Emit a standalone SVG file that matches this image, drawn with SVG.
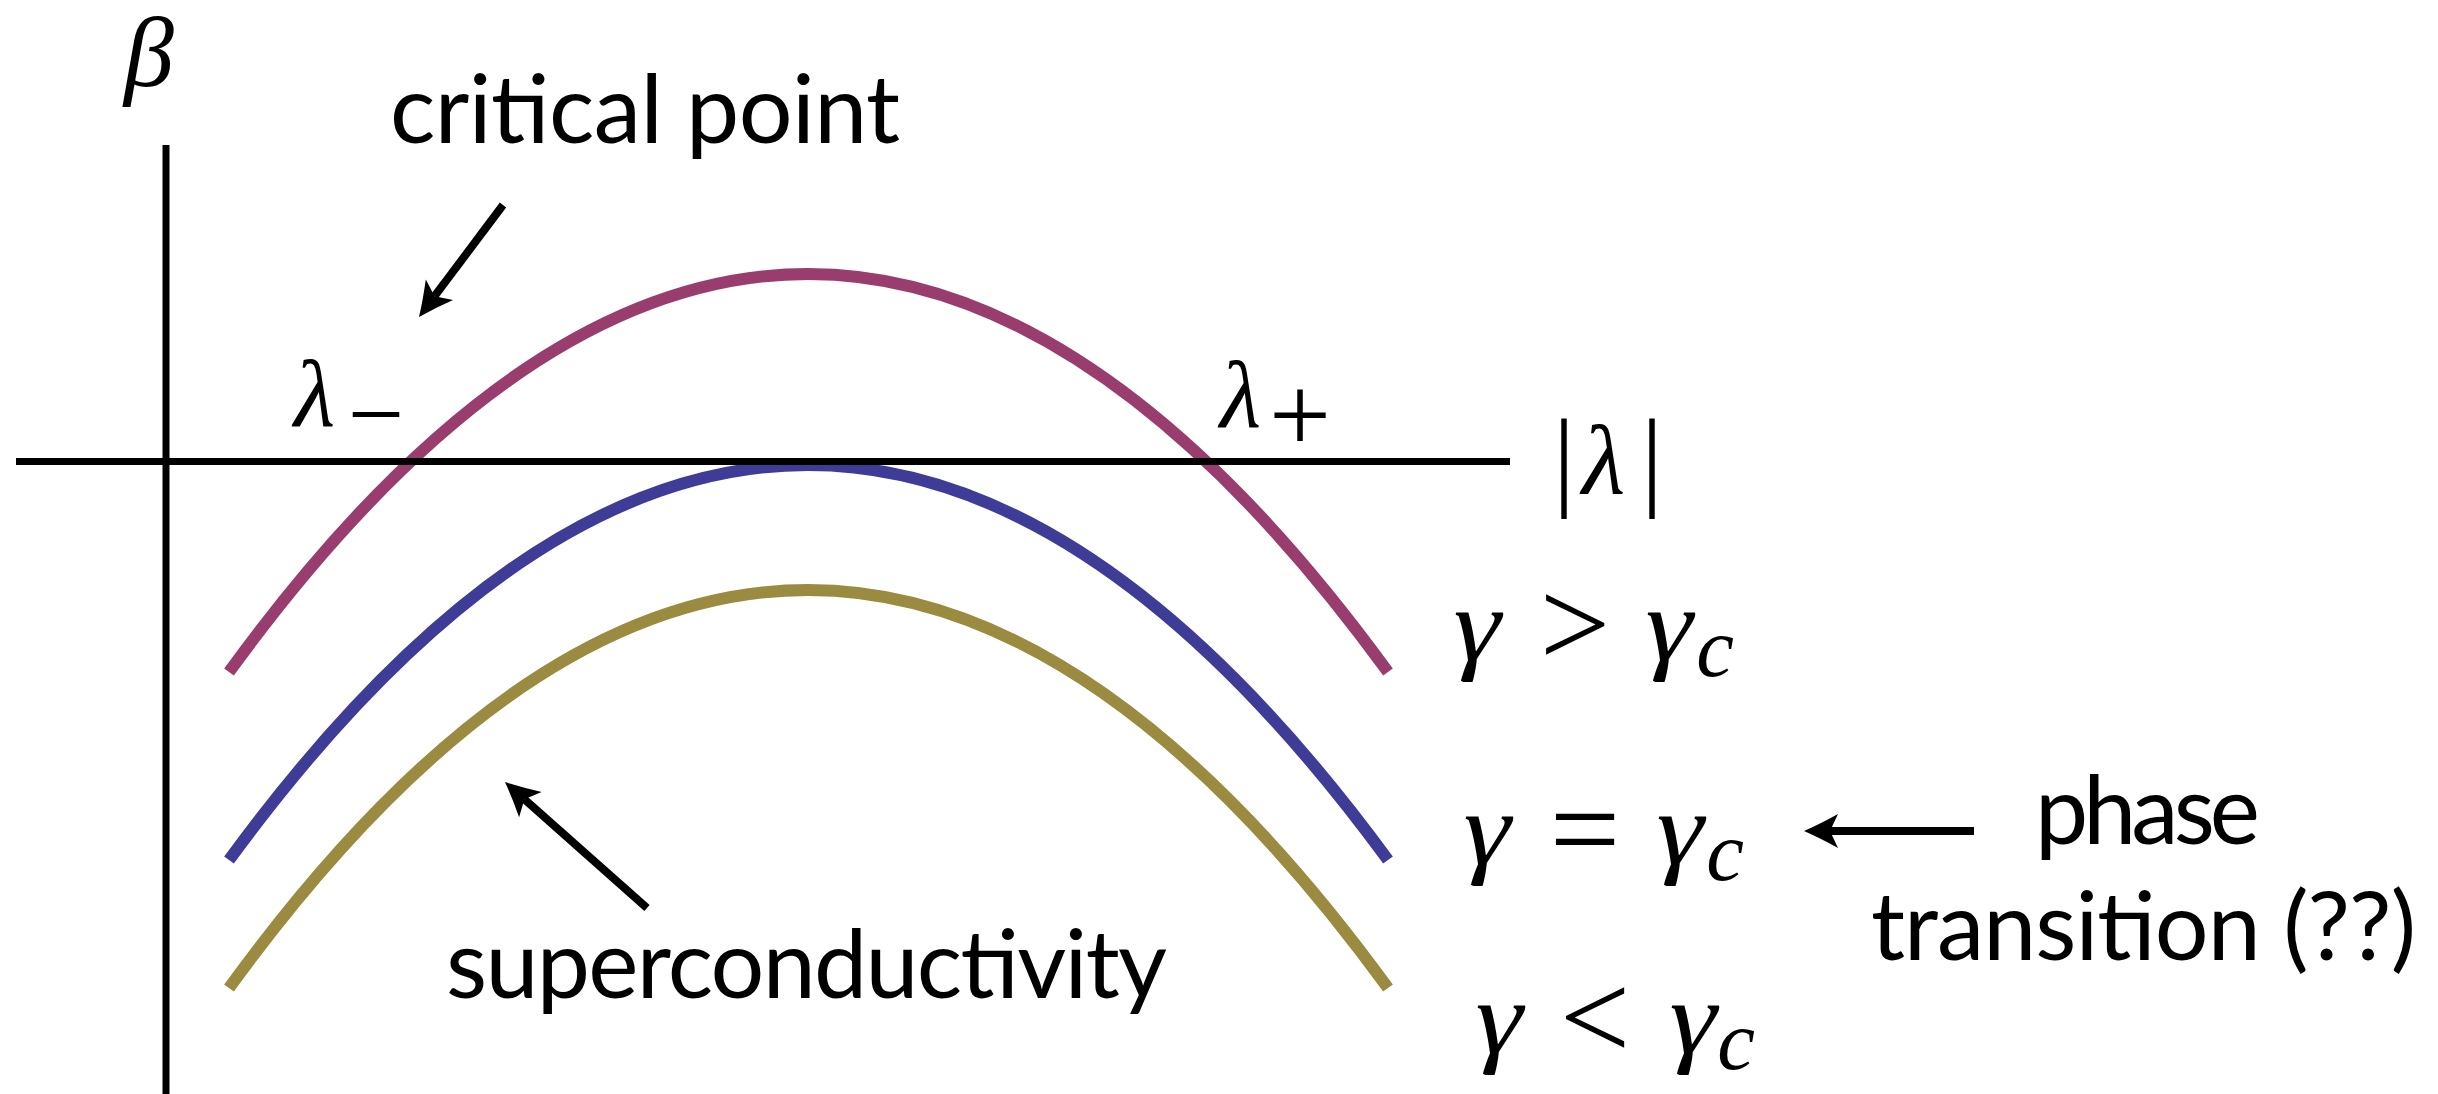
<svg xmlns="http://www.w3.org/2000/svg" width="2438" height="1094" viewBox="0 0 2438 1094">
<style>
.curve{fill:none;stroke-width:12;stroke-linecap:butt}
.axis{stroke:#000;stroke-width:7;fill:none}
.arrow{stroke:#000;stroke-width:8;fill:none;marker-end:url(#head)}
.lbl{font-family:Lato,"Liberation Sans",sans-serif;font-size:95px;fill:#000}
.math{font-family:"Liberation Serif",serif;font-style:italic;fill:#000}
.rel{font-family:"Liberation Serif",serif;font-style:normal;fill:#000}
</style>
<defs>
<marker id="head" markerUnits="userSpaceOnUse" orient="auto" viewBox="-10 -20 40 40" refX="0" refY="0" markerWidth="40" markerHeight="40" overflow="visible">
<path d="M26,0 Q10,-7 -8,-17 L0,0 L-8,17 Q10,7 26,0 Z" fill="#000"/>
</marker>
</defs>
<rect width="2438" height="1094" fill="#fff"/>
<g id="curve-above">
<path class="curve" stroke="#993d6e" d="M229,672 Q808,-124 1388,672"/>
</g>
<g id="curve-critical">
<path class="curve" stroke="#3f3c97" d="M229,860 Q808,70 1388,860"/>
</g>
<g id="curve-below">
<path class="curve" stroke="#9a8b40" d="M229,988 Q808,192 1388,988"/>
</g>
<g id="axes">
<line class="axis" x1="166" y1="145" x2="166" y2="1094"/>
<line class="axis" x1="16" y1="461.5" x2="1510" y2="461.5"/>
</g>
<g id="label-beta"><text class="math" x="124" y="86" font-size="100">β</text></g>
<g id="label-lambda-minus">
<text class="math" x="294" y="426" font-size="95">λ</text>
<text class="rel" x="376" y="448" font-size="100" text-anchor="middle">−</text>
</g>
<g id="label-lambda-plus">
<text class="math" x="1220" y="427" font-size="95">λ</text>
<text class="rel" x="1300" y="452" font-size="110" text-anchor="middle">+</text>
</g>
<g id="label-abs-lambda">
<text class="rel" x="1553" y="496" font-size="110">|</text>
<text class="math" x="1582" y="494" font-size="100">λ</text>
<text class="rel" x="1641" y="496" font-size="110">|</text>
</g>
<g id="label-critical-point"><text class="lbl" x="390" y="143" textLength="510" lengthAdjust="spacing">critical point</text></g>
<g id="label-superconductivity"><text class="lbl" x="446" y="998" textLength="721" lengthAdjust="spacing">superconductivity</text></g>
<g id="label-phase-transition">
<text class="lbl" x="2035" y="844" textLength="225" lengthAdjust="spacing">phase</text>
<text class="lbl" x="1871" y="960" textLength="545" lengthAdjust="spacing">transition (??)</text>
</g>
<g id="label-gamma-greater">
<text class="math" transform="translate(1477,660) scale(1.15,1)" font-size="104" text-anchor="middle">γ</text>
<text class="rel" x="1575" y="666" font-size="125" text-anchor="middle">&gt;</text>
<text class="math" transform="translate(1669,660) scale(1.15,1)" font-size="104" text-anchor="middle">γ</text>
<text class="math" x="1715" y="676" font-size="85" text-anchor="middle">c</text>
</g>
<g id="label-gamma-equal">
<text class="math" transform="translate(1487,864) scale(1.15,1)" font-size="104" text-anchor="middle">γ</text>
<text class="rel" x="1585" y="871" font-size="125" text-anchor="middle">=</text>
<text class="math" transform="translate(1680,864) scale(1.15,1)" font-size="104" text-anchor="middle">γ</text>
<text class="math" x="1725" y="880" font-size="85" text-anchor="middle">c</text>
</g>
<g id="label-gamma-less">
<text class="math" transform="translate(1499,1053) scale(1.15,1)" font-size="104" text-anchor="middle">γ</text>
<text class="rel" x="1595" y="1059" font-size="125" text-anchor="middle">&lt;</text>
<text class="math" transform="translate(1693,1053) scale(1.15,1)" font-size="104" text-anchor="middle">γ</text>
<text class="math" x="1736" y="1069" font-size="85" text-anchor="middle">c</text>
</g>
<g id="connectors">
<line class="arrow" x1="503" y1="205" x2="434.6" y2="296.2"/>
<line class="arrow" x1="647" y1="908" x2="524.4" y2="799.3"/>
<line class="arrow" x1="1974" y1="831" x2="1830" y2="831"/>
</g>
</svg>
